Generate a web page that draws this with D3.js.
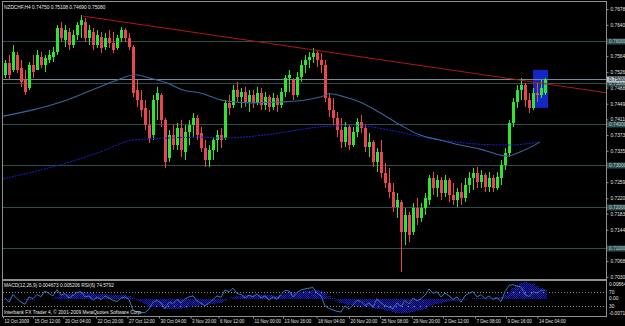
<!DOCTYPE html>
<html><head><meta charset="utf-8">
<script src="https://cdn.jsdelivr.net/npm/d3@7"></script>
<style>html,body{margin:0;padding:0;background:#000;overflow:hidden}text{font-family:"Liberation Sans",Arial,sans-serif}</style>
</head><body><svg id="c" width="625" height="326"></svg>
<script>
// ---- DATA (NZDCHF, H4; one candle per two H4 bars) ----
const opens = [.7519,.7548,.7531,.7567,.7535,.7506,.7487,.7543,.7531,.7562,
.7543,.7555,.7562,.7574,.7632,.7603,.7623,.7591,.7615,.7639,
.7647,.7608,.7623,.7591,.7610,.7586,.7608,.7596,.7584,.7608,
.7627,.7608,.7586,.7482,.7458,.7439,.7398,.7373,.7458,.7470,
.7410,.7318,.7373,.7349,.7390,.7332,.7381,.7398,.7414,.7378,
.7342,.7313,.7337,.7361,.7373,.7366,.7451,.7446,.7482,.7465,
.7477,.7453,.7470,.7451,.7475,.7446,.7465,.7441,.7463,.7446,
.7477,.7511,.7506,.7470,.7514,.7543,.7555,.7562,.7572,.7555,
.7543,.7463,.7434,.7414,.7385,.7356,.7393,.7349,.7381,.7405,
.7390,.7344,.7356,.7308,.7332,.7281,.7257,.7235,.7199,.7211,
.7139,.7180,.7139,.7197,.7172,.7197,.7216,.7269,.7245,.7264,
.7233,.7264,.7228,.7216,.7235,.7221,.7252,.7269,.7281,.7260,
.7277,.7248,.7269,.7245,.7269,.7301,.7330,.7402,.7453,.7482,
.7494,.7458,.7439,.7475,.7470,.7475];
const highs = [.7555,.7567,.7591,.7574,.7555,.7531,.7550,.7567,.7579,.7574,
.7567,.7579,.7586,.7639,.7647,.7639,.7632,.7627,.7647,.7664,
.7656,.7639,.7632,.7627,.7623,.7620,.7627,.7623,.7615,.7635,
.7632,.7620,.7591,.7506,.7482,.7458,.7434,.7470,.7490,.7475,
.7414,.7385,.7398,.7402,.7410,.7398,.7410,.7427,.7422,.7393,
.7361,.7349,.7369,.7385,.7390,.7458,.7470,.7494,.7502,.7487,
.7490,.7482,.7482,.7490,.7487,.7477,.7470,.7475,.7470,.7487,
.7519,.7531,.7511,.7526,.7555,.7567,.7574,.7584,.7579,.7572,
.7555,.7475,.7463,.7429,.7414,.7405,.7398,.7393,.7414,.7422,
.7398,.7378,.7361,.7342,.7361,.7306,.7293,.7257,.7233,.7216,
.7197,.7187,.7209,.7221,.7209,.7233,.7277,.7284,.7277,.7272,
.7277,.7269,.7257,.7245,.7257,.7269,.7284,.7293,.7296,.7289,
.7281,.7284,.7277,.7284,.7313,.7342,.7410,.7463,.7494,.7511,
.7499,.7475,.7487,.7499,.7506,.75108];
const lows = [.7511,.7506,.7526,.7523,.7490,.7470,.7482,.7511,.7531,.7535,
.7526,.7548,.7550,.7567,.7598,.7586,.7579,.7584,.7603,.7608,
.7598,.7591,.7579,.7584,.7572,.7579,.7584,.7572,.7579,.7598,
.7598,.7579,.7465,.7441,.7417,.7385,.7354,.7361,.7410,.7393,
.7293,.7308,.7337,.7337,.7320,.7313,.7349,.7369,.7361,.7332,
.7296,.7296,.7313,.7332,.7342,.7361,.7422,.7439,.7453,.7439,
.7441,.7429,.7439,.7446,.7434,.7434,.7429,.7434,.7429,.7439,
.7465,.7477,.7458,.7465,.7502,.7523,.7535,.7548,.7538,.7523,
.7453,.7417,.7398,.7369,.7342,.7344,.7337,.7344,.7369,.7378,
.7332,.7320,.7296,.7284,.7269,.7245,.7221,.7187,.7172,.7042,
.7107,.7114,.7131,.7156,.7163,.7180,.7204,.7228,.7223,.7216,
.7223,.7211,.7204,.7199,.7204,.7211,.7233,.7240,.7245,.7245,
.7235,.7235,.7235,.7240,.7252,.7289,.7320,.7393,.7439,.7458,
.7441,.7427,.7434,.7453,.7463,.7469];
const closes = [.7548,.7519,.7574,.7531,.7502,.7477,.7543,.7526,.7567,.7543,
.7560,.7567,.7574,.7632,.7608,.7627,.7591,.7615,.7639,.7652,
.7608,.7627,.7591,.7615,.7584,.7608,.7596,.7579,.7608,.7627,
.7608,.7586,.7475,.7458,.7434,.7398,.7366,.7458,.7475,.7410,
.7308,.7373,.7349,.7390,.7337,.7381,.7398,.7414,.7373,.7342,
.7313,.7337,.7361,.7373,.7361,.7451,.7439,.7482,.7465,.7477,
.7453,.7470,.7451,.7475,.7446,.7465,.7441,.7463,.7446,.7477,
.7511,.7519,.7470,.7514,.7543,.7555,.7562,.7572,.7555,.7543,
.7463,.7434,.7414,.7385,.7356,.7393,.7349,.7381,.7405,.7390,
.7344,.7356,.7308,.7332,.7281,.7257,.7235,.7199,.7216,.7139,
.7180,.7131,.7197,.7172,.7197,.7221,.7269,.7245,.7264,.7233,
.7264,.7228,.7216,.7235,.7221,.7252,.7269,.7281,.7260,.7277,
.7248,.7269,.7245,.7272,.7301,.7330,.7402,.7453,.7482,.7494,
.7458,.7439,.7475,.7470,.7487,.7508];

// moving averages, read at points along the lines (candle index, price)
const maFastIdx = [-0.5,7,15.5,23.75,28,32.5,36.25,40.5,44.5,48.75,55,61.25,68.75,73.75,78.75,81.25,85,88.75,93.75,98.75,103.75,108.75,113.75,118.75,123.75,125.5,128.75,133.75];
const maFastVal = [.7419,.7434,.7458,.7490,.7506,.7519,.7511,.7499,.7482,.7475,.7456,.7451,.7453,.7456,.7465,.7473,.7465,.7453,.7427,.7398,.7373,.7361,.7349,.7339,.7325,.7322,.7332,.7356];
const maSlowIdx = [-0.5,15.5,23.75,32,40.5,48.75,54.5,64.5,73,78.75,83.75,88.75,96.25,104.5,113,117,125.5,133.75];
const maSlowVal = [.7267,.7306,.7332,.7361,.7366,.7368,.7366,.7373,.7385,.7393,.7395,.7395,.7385,.7368,.7356,.7352,.7349,.7356];

// trendline anchors and rectangle object
const trendIdx = [19.5, 133.75];
const trendVal = [.7661, .7499];
const boxIdx = [132, 135.75];
const boxVal = [.7531, .7439];

// horizontal levels and price
const levels = [0.76, 0.75, 0.74, 0.73, 0.72, 0.71];
const bid = 0.7508;
const priceTicks = [0.7678,0.7640,0.7564,0.7526,0.7488,0.7449,0.7411,0.7373,0.7335,0.7259,0.7220,0.7183,0.7144,0.7068,0.7030];

// MACD histogram and RSI(6)
const macd = [-0.0005,-0.0003,0.0000,0.0002,0.0001,-0.0003,-0.0004,-0.0003,-0.0001,0.0000,
0.0001,0.0002,0.0004,0.0012,0.0018,0.0023,0.0025,0.0026,0.0029,0.0033,
0.0032,0.0031,0.0029,0.0027,0.0025,0.0024,0.0022,0.0020,0.0019,0.0020,
0.0019,0.0017,0.0006,-0.0005,-0.0016,-0.0028,-0.0040,-0.0043,-0.0042,-0.0043,
-0.0050,-0.0052,-0.0052,-0.0050,-0.0049,-0.0046,-0.0042,-0.0037,-0.0034,-0.0032,
-0.0032,-0.0030,-0.0027,-0.0023,-0.0020,-0.0008,0.0000,0.0008,0.0013,0.0017,
0.0019,0.0020,0.0020,0.0021,0.0020,0.0020,0.0019,0.0018,0.0017,0.0018,
0.0023,0.0028,0.0028,0.0030,0.0035,0.0039,0.0042,0.0044,0.0044,0.0042,
0.0030,0.0017,0.0005,-0.0008,-0.0020,-0.0026,-0.0032,-0.0035,-0.0035,-0.0036,
-0.0040,-0.0043,-0.0047,-0.0049,-0.0053,-0.0057,-0.0061,-0.0066,-0.0069,-0.0071,
-0.0070,-0.0070,-0.0066,-0.0062,-0.0057,-0.0051,-0.0040,-0.0032,-0.0025,-0.0020,
-0.0015,-0.0012,-0.0010,-0.0008,-0.0006,-0.0003,0.0000,0.0003,0.0004,0.0006,
0.0006,0.0007,0.0007,0.0008,0.0012,0.0018,0.0035,0.0055,0.0070,0.0080,
0.0086,0.0082,0.0075,0.0065,0.0056,0.004673];
const rsi = [52,40,62,50,40,34,55,50,62,56,
72,65,58,76,60,65,52,60,68,70,
55,58,45,55,47,58,52,45,42,52,
55,48,17,13,11,10,20,40,45,38,
22,40,36,48,38,50,55,58,44,37,
30,38,48,58,54,75,70,80,65,62,
52,60,55,64,52,58,46,55,48,62,
74,72,55,68,75,78,80,82,66,58,
30,22,18,14,12,30,20,32,45,42,
30,38,25,50,38,30,26,22,38,28,
45,35,52,44,50,60,78,65,70,55,
66,58,48,55,40,58,66,70,55,62,
50,58,48,52,42,70,88,90,86,84,
62,56,70,66,74,74.58];

// time axis labels at candle index positions
const timeIdx = [-0.5,7,14.6,22.75,30.6,38.5,46.4,53.4,62,69.5,77.9,86,93.75,101.7,109.5,117.5,125.25,133.1];
const timeLabels = ["12 Oct 2009","15 Oct 12:00","20 Oct 04:00","22 Oct 20:00","27 Oct 12:00","30 Oct 04:00","3 Nov 20:00","6 Nov 12:00","11 Nov 00:00","13 Nov 16:00","18 Nov 04:00","20 Nov 20:00","25 Nov 08:00","29 Nov 20:00","2 Dec 12:00","7 Dec 08:00","9 Dec 16:00","14 Dec 04:00"];

// ---- DRAWING ----
const svg = d3.select("#c");
const L = 3, R = 606, mT = 2, mB = 279, sT = 281, sB = 316;
const FS = 4.8, FT = 4.5, FH = 4.8;
const x = d3.scaleLinear().domain([0, 135]).range([5, 545]);
const y = d3.scaleLinear().domain([0.7678, 0.7030]).range([9.1, 276.8]);
const yM = d3.scaleLinear().domain([-0.00714, 0.008647]).range([313, 282]);
const yR = d3.scaleLinear().domain([0, 100]).range([316.2, 281.2]);

svg.append("rect").attr("width", 625).attr("height", 326).attr("fill", "#000");
const defs = svg.append("defs");
defs.append("clipPath").attr("id", "mc").append("rect").attr("x", L).attr("y", mT).attr("width", R - L).attr("height", mB - mT);
defs.append("clipPath").attr("id", "sc").append("rect").attr("x", L).attr("y", sT).attr("width", R - L).attr("height", sB - sT);

const main = svg.append("g").attr("clip-path", "url(#mc)");

// rectangle object (background)
main.append("rect")
  .attr("x", x(boxIdx[0])).attr("y", y(boxVal[0]))
  .attr("width", x(boxIdx[1]) - x(boxIdx[0])).attr("height", y(boxVal[1]) - y(boxVal[0]))
  .attr("fill", "#1426c4");

// horizontal levels
main.selectAll("line.lv").data(levels).join("line")
  .attr("x1", L).attr("x2", R).attr("y1", d => Math.round(y(d)) + 0.5).attr("y2", d => Math.round(y(d)) + 0.5)
  .attr("stroke", "#2f4f4f").attr("stroke-width", 1);
// bid line
main.append("line").attr("x1", L).attr("x2", R)
  .attr("y1", Math.round(y(bid)) + 0.5).attr("y2", Math.round(y(bid)) + 0.5)
  .attr("stroke", "#778899").attr("stroke-width", 1);

// candles
const idx = d3.range(opens.length);
const bull = "#2ee62e", bear = "#e8474d";
const cg = main.append("g").attr("shape-rendering", "crispEdges");
cg.selectAll("line.w").data(idx).join("line")
  .attr("x1", i => x(i) + 0.5).attr("x2", i => x(i) + 0.5)
  .attr("y1", i => y(highs[i])).attr("y2", i => y(lows[i]))
  .attr("stroke", i => closes[i] >= opens[i] ? bull : bear).attr("stroke-width", 1);
cg.selectAll("rect.b").data(idx).join("rect")
  .attr("x", i => x(i) - 1).attr("width", 3)
  .attr("y", i => y(Math.max(opens[i], closes[i])))
  .attr("height", i => Math.max(1, Math.abs(y(opens[i]) - y(closes[i]))))
  .attr("fill", i => closes[i] >= opens[i] ? bull : bear);

// moving averages
const lineGen = d3.line().curve(d3.curveMonotoneX);
main.append("path")
  .attr("d", lineGen(maSlowIdx.map((d, i) => [x(d), y(maSlowVal[i])])))
  .attr("fill", "none").attr("stroke", "#1c1cd6").attr("stroke-width", 1).attr("stroke-dasharray", "2,1");
main.append("path")
  .attr("d", lineGen(maFastIdx.map((d, i) => [x(d), y(maFastVal[i])])))
  .attr("fill", "none").attr("stroke", "#36679a").attr("stroke-width", 1.1);

// trendline (ray to the right edge)
const tx0 = x(trendIdx[0]), ty0 = y(trendVal[0]);
const slope = (y(trendVal[1]) - ty0) / (x(trendIdx[1]) - tx0);
main.append("line").attr("x1", tx0).attr("y1", ty0).attr("x2", R).attr("y2", ty0 + slope * (R - tx0))
  .attr("stroke", "#b01616").attr("stroke-width", 1);

// title
svg.append("text").attr("x", 4).attr("y", 8.5).attr("fill", "#e8e8e8").attr("font-size", FH)
  .text("NZDCHF,H4  0.74750 0.75108 0.74690 0.75080");

// subwindow
const sub = svg.append("g").attr("clip-path", "url(#sc)");
[70, 30].forEach(v => sub.append("line").attr("x1", L).attr("x2", R)
  .attr("y1", Math.round(yR(v)) + 0.5).attr("y2", Math.round(yR(v)) + 0.5)
  .attr("stroke", "#8a8a8a").attr("stroke-dasharray", "1,2"));
const hg = sub.append("g").attr("shape-rendering", "crispEdges");
idx.forEach(i => {
  [-1, 0, 1, 2].forEach(off => {
    hg.append("line").attr("x1", x(i) + off - 0.5).attr("x2", x(i) + off - 0.5)
      .attr("y1", yM(0)).attr("y2", yM(macd[i]))
      .attr("stroke", "#1c1ce8").attr("stroke-dasharray", "1,1")
      .attr("stroke-dashoffset", (off + 2) % 2);
  });
});
sub.append("path").attr("d", d3.line()(idx.map(i => [x(i), yR(rsi[i])])))
  .attr("fill", "none").attr("stroke", "#3a78b8").attr("stroke-width", 1);
svg.append("text").attr("x", 4).attr("y", 287).attr("fill", "#e8e8e8").attr("font-size", FH)
  .text("MACD(12,26,9) 0.004673 0.005206 RSI(6) 74.5792");
svg.append("text").attr("x", 4).attr("y", 313.5).attr("fill", "#e8e8e8").attr("font-size", FH)
  .text("Interbank FX Trader 4, \u00a9 2001-2009 MetaQuotes Software Corp.");

// frames
const fr = svg.append("g").attr("fill", "none").attr("shape-rendering", "crispEdges");
fr.append("rect").attr("x", L - 0.5).attr("y", mT - 0.5).attr("width", R - L + 1).attr("height", mB - mT + 1).attr("stroke", "#909090");
fr.append("rect").attr("x", L - 0.5).attr("y", sT - 0.5).attr("width", R - L + 1).attr("height", sB - sT + 1).attr("stroke", "#909090");

// price axis
const pAxis = svg.append("g").attr("transform", `translate(${R + 0.5},0)`)
  .call(d3.axisRight(y).tickValues(priceTicks).tickFormat(d3.format(".5f")).tickSize(2).tickPadding(2));
pAxis.select(".domain").remove();
pAxis.selectAll("line").attr("stroke", "#909090");
pAxis.selectAll("text").attr("fill", "#e0e0e0").attr("font-size", FS).attr("font-family", "Liberation Sans");

// highlighted level labels
const hl = svg.append("g");
levels.forEach(v => {
  const yy = Math.round(y(v)) + 0.5;
  hl.append("rect").attr("x", R + 1).attr("y", yy - 3).attr("width", 18).attr("height", 6).attr("fill", "#2f4f4f");
  hl.append("text").attr("x", R + 3).attr("y", yy + 1.8).attr("fill", "#b8c8c8").attr("font-size", FS).text(d3.format(".5f")(v));
});
{
  const yy = Math.round(y(bid)) + 0.5;
  hl.append("rect").attr("x", R + 1).attr("y", yy - 3).attr("width", 18).attr("height", 6).attr("fill", "#b8c2cc");
  hl.append("text").attr("x", R + 3).attr("y", yy + 1.8).attr("fill", "#000").attr("font-size", FS).text(d3.format(".5f")(bid));
}

// subwindow scale labels
const subLab = [["0.008647", 284.5], ["70", yR(70)], ["0.00", 298], ["30", yR(30)], ["-0.00714", 313.5]];
subLab.forEach(([t, yy]) => svg.append("text").attr("x", R + 3).attr("y", yy + 1.8)
  .attr("fill", "#e0e0e0").attr("font-size", FS).text(t));

// time axis
const tAxis = svg.append("g").attr("transform", `translate(0,${sB + 0.5})`)
  .call(d3.axisBottom(x).tickValues(timeIdx).tickFormat((d, i) => timeLabels[i]).tickSize(2).tickPadding(1));
tAxis.select(".domain").remove();
tAxis.selectAll("line").attr("stroke", "#909090");
tAxis.selectAll("text").attr("fill", "#e0e0e0").attr("font-size", FT).attr("font-family", "Liberation Sans")
  .attr("text-anchor", "start").attr("dx", "1");
</script></body></html>
